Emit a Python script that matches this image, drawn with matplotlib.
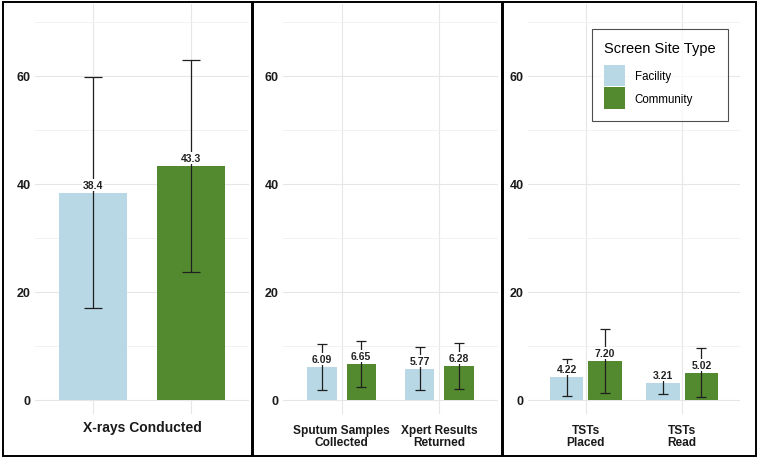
import matplotlib
matplotlib.use("Agg")
import matplotlib.pyplot as plt
from matplotlib.patches import Rectangle, Patch
import numpy as np

plt.rcParams['font.family'] = ['Liberation Sans', 'DejaVu Sans']

# ---------------- data ----------------
series_names = ["Facility", "Community"]

cats1 = ["X-rays Conducted"]
fac1 = [38.4]
com1 = [43.3]
fac1_err = [21.3]
com1_err = [19.7]

cats2 = ["Sputum Samples\nCollected", "Xpert Results\nReturned"]
fac2 = [6.09, 5.77]
com2 = [6.65, 6.28]
fac2_err = [4.2, 4.0]
com2_err = [4.3, 4.2]

cats3 = ["TSTs\nPlaced", "TSTs\nRead"]
fac3 = [4.22, 3.21]
com3 = [7.20, 5.02]
fac3_err = [3.4, 2.2]
com3_err = [5.85, 4.55]

yticks_major = [0, 20, 40, 60]
yticks_minor = [10, 30, 50, 70]

# ---------------- style ----------------
C_FAC = '#B8D8E6'
C_COM = '#538A2F'
W, H = 759, 460
fig = plt.figure(figsize=(W / 100, H / 100), dpi=100)


def px_axes(x0, x1, ytop, ybot):
    return fig.add_axes([x0 / W, 1 - ybot / H, (x1 - x0) / W, (ybot - ytop) / H])


def panel(ax, cats, fac, com, ferr, cerr, xlim, off, bw, capsize, fmt,
          xfs, xpad, grid_at_bars):
    x = np.arange(len(cats), dtype=float)
    ax.set_xlim(*xlim)
    ax.set_ylim(-2.6, 73.3)
    for s in ax.spines.values():
        s.set_visible(False)
    ax.set_yticks(yticks_major)
    ax.set_yticks(yticks_minor, minor=True)
    ax.yaxis.grid(True, which='major', color='#E6E6E6', lw=0.8, zorder=0)
    ax.yaxis.grid(True, which='minor', color='#F0F0F0', lw=0.6, zorder=0)
    ax.set_axisbelow(True)
    gx = list(x - off) + list(x + off) if grid_at_bars else list(x)
    for g in gx:
        ax.axvline(g, color='#E6E6E6', lw=0.8, zorder=0)
    ax.tick_params(axis='both', which='both', length=0)
    ax.tick_params(axis='y', pad=3)
    ax.tick_params(axis='x', pad=xpad)
    for t in ax.get_yticklabels():
        t.set_fontweight('bold'); t.set_fontsize(9); t.set_color('#1a1a1a')
    ax.set_xticks(x)
    ax.set_xticklabels(cats, fontsize=xfs, fontweight='bold', color='#1a1a1a',
                       linespacing=1.0)
    for vals, errs, sign, col in ((fac, ferr, -1, C_FAC), (com, cerr, 1, C_COM)):
        xs = x + sign * off
        ax.bar(xs, vals, width=bw, color=col, zorder=2)
        ax.errorbar(xs, vals, yerr=errs, fmt='none', ecolor='#1f1f1f',
                    elinewidth=0.9, capsize=capsize, capthick=0.9, zorder=3)
        for xi, v in zip(xs, vals):
            ax.annotate(fmt.format(v), (xi, v), xytext=(0, 2.0),
                        textcoords='offset points', ha='center', va='bottom',
                        fontsize=7.5, fontweight='bold', color='#222222', zorder=4,
                        bbox=dict(facecolor='white', edgecolor='none', pad=0.6))
    return ax


ax1 = px_axes(35, 249, 5, 415)
panel(ax1, cats1, fac1, com1, fac1_err, com1_err, (-0.6, 0.6), 0.275, 0.38,
      6.5, '{:.1f}', 10, 4, True)

ax2 = px_axes(283, 498, 5, 415)
panel(ax2, cats2, fac2, com2, fac2_err, com2_err, (-0.6, 1.6), 0.2, 0.30,
      3.3, '{:.2f}', 8.6, 7, False)

ax3 = px_axes(528, 740, 5, 415)
panel(ax3, cats3, fac3, com3, fac3_err, com3_err, (-0.6, 1.6), 0.2, 0.35,
      3.3, '{:.2f}', 8.6, 7, False)

handles = [Patch(facecolor=C_FAC, edgecolor='none'),
           Patch(facecolor=C_COM, edgecolor='none')]
leg = ax3.legend(handles, series_names, title='Screen Site Type',
                 loc='upper left', bbox_to_anchor=(592 / W, 1 - 30 / H),
                 bbox_transform=fig.transFigure, borderaxespad=0,
                 fontsize=8.3, title_fontsize=10.5, frameon=True, fancybox=False,
                 handlelength=1.85, handleheight=2.5, labelspacing=0.08,
                 handletextpad=0.8, borderpad=1.05, alignment='left')
leg.get_frame().set_edgecolor('#222222')
leg.get_frame().set_linewidth(0.8)
leg._legend_box.sep = 7

# panel borders
for x0, x1 in ((3, 252), (253, 502), (503, 756)):
    fig.patches.append(Rectangle((x0 / W, 3 / H), (x1 - x0) / W, (457 - 3) / H,
                                 transform=fig.transFigure, fill=False,
                                 edgecolor='black', lw=1.4))

fig.savefig('out.png', dpi=100, facecolor='white')
